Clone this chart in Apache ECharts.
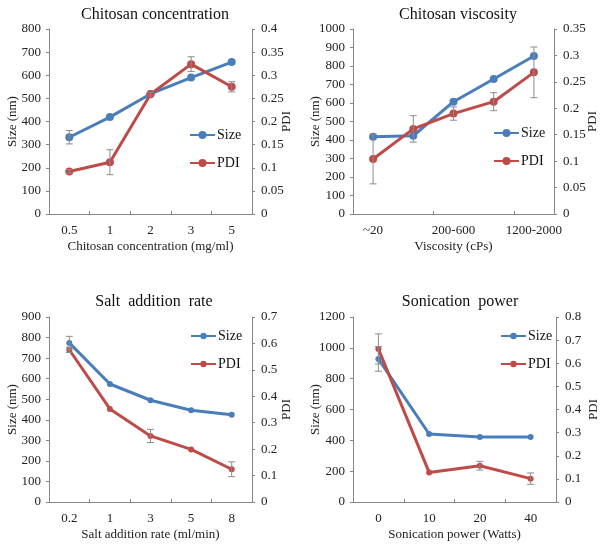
<!DOCTYPE html>
<html><head><meta charset="utf-8">
<script src="https://cdn.jsdelivr.net/npm/echarts@6/dist/echarts.min.js"></script>
<style>html,body{margin:0;padding:0;background:#fff}#c{width:601px;height:547px}</style>
</head><body><div id="c"></div>
<script>
// Panel 1: Chitosan concentration
const concCats = ['0.5', '1', '2', '3', '5'];
const concSize = [332, 419, 519, 590, 657];
const concSizeErr = [29, 0, 0, 0, 0];
const concPdi = [0.092, 0.112, 0.259, 0.324, 0.275];
const concPdiErr = [0.004, 0.027, 0.004, 0.016, 0.011];
// Panel 2: Chitosan viscosity
const viscCats = ['~20', '20-200', '200-600', '600-1200', '1200-2000'];
const viscSize = [418, 423, 607, 730, 854];
const viscSizeErr = [0, 0, 0, 0, 0];
const viscPdi = [0.104, 0.161, 0.190, 0.2125, 0.268];
const viscPdiErr = [0.047, 0.025, 0.0126, 0.017, 0.048];
// Panel 3: Salt addition rate
const saltCats = ['0.2', '1', '3', '5', '8'];
const saltSize = [774, 574, 495, 446, 425];
const saltSizeErr = [32, 0, 0, 0, 0];
const saltPdi = [0.576, 0.352, 0.250, 0.199, 0.124];
const saltPdiErr = [0.01, 0, 0.025, 0, 0.028];
// Panel 4: Sonication power
const sonCats = ['0', '10', '20', '40'];
const sonSize = [928, 441, 422, 422];
const sonSizeErr = [80, 0, 0, 0];
const sonPdi = [0.662, 0.128, 0.157, 0.101];
const sonPdiErr = [0.065, 0, 0.019, 0.0245];

const FONT = 'Liberation Serif';
const BLUE = '#4a7ebb', RED = '#be4b48', AX = '#868686', ERR = '#8c8c8c';

const panels = [
  {title:'Chitosan concentration', xname:'Chitosan concentration (mg/ml)', cats:concCats, size:concSize, sizeErr:concSizeErr, pdi:concPdi, pdiErr:concPdiErr,
   grid:{left:49, top:29, width:203, height:185}, lmax:800, lint:100, rmax:0.4, rint:0.05, xInt:0, sym:8, legend:{left:189, top:128}, tx:150, ty:2, lg:30, rg:28},
  {title:'Chitosan viscosity', xname:'Viscosity (cPs)', cats:viscCats, size:viscSize, sizeErr:viscSizeErr, pdi:viscPdi, pdiErr:viscPdiErr,
   grid:{left:353, top:29, width:201, height:185}, lmax:1000, lint:100, rmax:0.35, rint:0.05, xInt:1, sym:8, legend:{left:493, top:126}, tx:453, ty:2, lg:31, rg:32},
  {title:'Salt  addition  rate', xname:'Salt addition rate (ml/min)', cats:saltCats, size:saltSize, sizeErr:saltSizeErr, pdi:saltPdi, pdiErr:saltPdiErr,
   grid:{left:49, top:317, width:203, height:185}, lmax:900, lint:100, rmax:0.7, rint:0.1, xInt:0, sym:6, legend:{left:190, top:329}, tx:149, ty:289, lg:30, rg:28},
  {title:'Sonication  power', xname:'Sonication power (Watts)', cats:sonCats, size:sonSize, sizeErr:sonSizeErr, pdi:sonPdi, pdiErr:sonPdiErr,
   grid:{left:353, top:317, width:205, height:185}, lmax:1200, lint:200, rmax:0.8, rint:0.1, xInt:0, sym:6, legend:{left:500, top:329}, tx:455, ty:289, lg:31, rg:31}
];

const txt = {fontFamily:FONT, color:'#222', fontSize:13};
const option = {animation:false, backgroundColor:'#fff', title:[], grid:[], xAxis:[], yAxis:[], legend:[], series:[]};

function errRender(color){
  return function(params, api){
    const e = api.value(2);
    if (!e) return null;
    const x = api.value(0), v = api.value(1);
    const t = api.coord([x, v + e]), b = api.coord([x, v - e]);
    const cw = 3.5;
    const st = {stroke:color, lineWidth:1};
    return {type:'group', children:[
      {type:'line', shape:{x1:t[0], y1:t[1], x2:b[0], y2:b[1]}, style:st},
      {type:'line', shape:{x1:t[0]-cw, y1:t[1], x2:t[0]+cw, y2:t[1]}, style:st},
      {type:'line', shape:{x1:b[0]-cw, y1:b[1], x2:b[0]+cw, y2:b[1]}, style:st}
    ]};
  };
}
const plain = v => String(+v.toFixed(4));

panels.forEach((p, i) => {
  option.title.push({text:p.title, left:p.tx, top:p.ty, textAlign:'center',
    textStyle:{fontFamily:FONT, fontSize:16, fontWeight:'normal', color:'#111'}});
  option.grid.push(Object.assign({containLabel:false}, p.grid));
  option.xAxis.push({type:'category', gridIndex:i, data:p.cats, boundaryGap:true,
    name:p.xname, nameLocation:'middle', nameGap:26, nameMoveOverlap:false,
    nameTextStyle:Object.assign({}, txt),
    axisLine:{lineStyle:{color:AX, width:1}}, axisTick:{show:true, inside:true, length:3, lineStyle:{color:AX}},
    axisLabel:Object.assign({}, txt, {margin:10, interval:p.xInt}), splitLine:{show:false}});
  option.yAxis.push({type:'value', gridIndex:i, min:0, max:p.lmax, interval:p.lint, position:'left',
    name:'Size (nm)', nameLocation:'middle', nameGap:p.lg, nameRotate:90, nameMoveOverlap:false,
    nameTextStyle:Object.assign({}, txt),
    axisLine:{show:true, lineStyle:{color:AX}}, axisTick:{show:true, length:3, lineStyle:{color:AX}},
    axisLabel:Object.assign({}, txt, {margin:8, formatter:plain}), splitLine:{show:false}});
  option.yAxis.push({type:'value', gridIndex:i, min:0, max:p.rmax, interval:p.rint, position:'right',
    name:'PDI', nameLocation:'middle', nameGap:p.rg, nameRotate:90, nameMoveOverlap:false,
    nameTextStyle:Object.assign({}, txt),
    axisLine:{show:true, lineStyle:{color:AX}}, axisTick:{show:true, length:3, lineStyle:{color:AX}},
    axisLabel:Object.assign({}, txt, {margin:9, formatter:plain}), splitLine:{show:false}});
  option.legend.push({orient:'vertical', left:p.legend.left, top:p.legend.top, itemGap:14, padding:0,
    itemWidth:25, itemHeight:p.sym + 2, data:['Size','PDI'],
    textStyle:Object.assign({}, txt, {fontSize:14, color:'#111', padding:[0,0,0,-3]}), selectedMode:false});
  const ly = i * 2, ry = i * 2 + 1;
  option.series.push({name:'Size', type:'line', xAxisIndex:i, yAxisIndex:ly, data:p.size,
    symbol:'circle', symbolSize:p.sym, color:BLUE, lineStyle:{width:3, color:BLUE}, itemStyle:{color:BLUE}, z:3});
  option.series.push({name:'PDI', type:'line', xAxisIndex:i, yAxisIndex:ry, data:p.pdi,
    symbol:'circle', symbolSize:p.sym, color:RED, lineStyle:{width:3, color:RED}, itemStyle:{color:RED}, z:3});
  option.series.push({type:'custom', xAxisIndex:i, yAxisIndex:ly, renderItem:errRender(ERR),
    data:p.size.map((v, k) => [k, v, p.sizeErr[k]]), z:4, silent:true});
  option.series.push({type:'custom', xAxisIndex:i, yAxisIndex:ry, renderItem:errRender(ERR),
    data:p.pdi.map((v, k) => [k, v, p.pdiErr[k]]), z:4, silent:true});
});

const chart = echarts.init(document.getElementById('c'), null, {renderer:'canvas'});
chart.setOption(option);
</script></body></html>
